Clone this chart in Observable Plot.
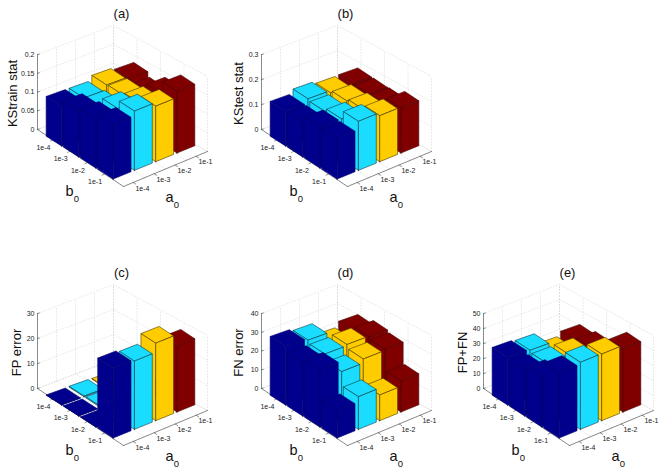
<!DOCTYPE html>
<html><head><meta charset="utf-8">
<script src="https://cdn.jsdelivr.net/npm/d3@7"></script>
<script src="https://cdn.jsdelivr.net/npm/@observablehq/plot@0.6"></script>
<style>html,body{margin:0;padding:0;background:#fff}</style></head>
<body><div id="chart"></div>
<script>
const aLabels = ["1e-4","1e-3","1e-2","1e-1"];
const bLabels = ["1e-4","1e-3","1e-2","1e-1"];
const barColors = ["#00008c","#19dcff","#ffcc00","#800000"];
const edgeColors = ["#000070","#0a3a4a","#4a3a00","#4a0000"];
// rows: b0 = 1e-4 .. 1e-1; columns: a0 = 1e-4 .. 1e-1
const ksTrain = [[.106,.106,.119,.114],[.124,.111,.121,.102],[.132,.136,.128,.13],[.145,.158,.148,.164]];
const ksTest  = [[.139,.156,.147,.149],[.139,.149,.157,.15],[.164,.162,.166,.153],[.162,.196,.184,.18]];
const fpError = [[.1,.3,.2,.1],[.1,.4,.2,.1],[.1,.3,.2,.1],[28,27.3,31,26.4]];
const fnError = [[31.3,30.2,23.7,26.5],[28.5,28.6,29.2,28.8],[30.7,25,27.2,27.8],[14.4,17.4,13.7,16.5]];
const fpfn    = [[31.8,31,23.7,26.5],[29.7,29.6,29.9,28.7],[33.6,29.4,29.4,28.7],[43.5,44.7,44.4,42.1]];
const panels = [
 {title:"(a)",ylabel:"KStrain stat",values:ksTrain,zmax:.2,ticks:[0,.05,.1,.15,.2],dx:0,dy:0,lx:12},
 {title:"(b)",ylabel:"KStest stat",values:ksTest,zmax:.3,ticks:[0,.1,.2,.3],dx:224,dy:0,lx:238},
 {title:"(c)",ylabel:"FP error",values:fpError,zmax:30,ticks:[0,10,20,30],dx:0,dy:259,lx:16},
 {title:"(d)",ylabel:"FN error",values:fnError,zmax:40,ticks:[0,10,20,30,40],dx:224,dy:259,lx:238},
 {title:"(e)",ylabel:"FP+FN",values:fpfn,zmax:50,ticks:[0,10,20,30,40,50],dx:446,dy:259,lx:462}
];
const L=[37,129],F=[123,186],R=[207,151],B=[113,100],BarL=[37,131],BarB=[129,99],ZH=75;
const faces=[],grid=[],axes=[],texts=[];
panels.forEach((pn,pi)=>{
  const proj=(Lk,Bk)=>(u,v,z=0)=>[
    F[0]*(1-u)*(1-v)+R[0]*u*(1-v)+Lk[0]*(1-u)*v+Bk[0]*u*v+pn.dx,
    F[1]*(1-u)*(1-v)+R[1]*u*(1-v)+Lk[1]*(1-u)*v+Bk[1]*u*v+pn.dy-z/pn.zmax*ZH];
  const P=proj(L,B),Q=proj(BarL,BarB);
  const seg=(arr,id,pts,extra={})=>pts.forEach(p=>arr.push({x:p[0],y:p[1],id:pi+"-"+id,...extra}));
  pn.ticks.forEach((t,i)=>{
    seg(grid,"zl"+i,[P(0,1,t),P(1,1,t)]);
    seg(grid,"zr"+i,[P(1,1,t),P(1,0,t)]);
  });
  for(let i=0;i<=4;i++){
    const q=i/4;
    seg(grid,"fu"+i,[P(q,0),P(q,1)]);
    seg(grid,"fv"+i,[P(0,q),P(1,q)]);
    seg(grid,"wu"+i,[P(q,1),P(q,1,pn.zmax)]);
    seg(grid,"wv"+i,[P(1,q),P(1,q,pn.zmax)]);
  }
  seg(axes,"z",[P(0,1),P(0,1,pn.zmax)]);
  seg(axes,"ev",[P(0,1),P(0,0)]);
  seg(axes,"eu",[P(0,0),P(1,0)]);
  pn.ticks.forEach((t,i)=>{
    const p=P(0,1,t);
    seg(axes,"zt"+i,[p,[p[0]+2,p[1]-.5]]);
    texts.push({x:p[0]-3,y:p[1],t:String(t),s:7,a:"end",c:"#222"});
  });
  bLabels.forEach((lab,k)=>{
    const p=P(0,.22+.2*(3-k));
    texts.push({x:p[0]-9.5,y:p[1]+8,t:lab,s:7,a:"middle",c:"#222"});
    seg(axes,"bt"+k,[p,[p[0]-2.5,p[1]+1.2]]);
  });
  aLabels.forEach((lab,j)=>{
    const p=P(.115+.25*j,0);
    texts.push({x:p[0]+9.3,y:p[1]+6,t:lab,s:7,a:"middle",c:"#222"});
    seg(axes,"at"+j,[p,[p[0]+2.5,p[1]+1.6]]);
  });
  for(let k=0;k<4;k++) for(let j=3;j>=0;j--){
    const z=pn.values[k][j],u0=.01+.25*j,u1=u0+.21,v0=.13+.2*(3-k),v1=v0+.18;
    const e={fill:barColors[j],edge:edgeColors[j]};
    seg(faces,`t${k}${j}`,[Q(u0,v0,z),Q(u1,v0,z),Q(u1,v1,z),Q(u0,v1,z),Q(u0,v0,z)],e);
    seg(faces,`l${k}${j}`,[Q(u0,v0,0),Q(u0,v1,0),Q(u0,v1,z),Q(u0,v0,z),Q(u0,v0,0)],e);
    seg(faces,`r${k}${j}`,[Q(u0,v0,0),Q(u1,v0,0),Q(u1,v0,z),Q(u0,v0,z),Q(u0,v0,0)],e);
  }
  texts.push({x:121+pn.dx,y:13+pn.dy,t:pn.title,s:13,a:"middle",c:"#111"});
  texts.push({x:pn.lx,y:pi<2?93:352,t:pn.ylabel,s:13,a:"middle",c:"#111",r:-90});
  texts.push({x:69+pn.dx,y:191+pn.dy,t:"b",s:14.5,a:"middle",c:"#111"});
  texts.push({x:76+pn.dx,y:198+pn.dy,t:"0",s:9.5,a:"middle",c:"#111"});
  texts.push({x:169+pn.dx,y:197+pn.dy,t:"a",s:14.5,a:"middle",c:"#111"});
  texts.push({x:176+pn.dx,y:204+pn.dy,t:"0",s:9.5,a:"middle",c:"#111"});
});
const textMark=(rows,rot)=>["middle","end"].map(an=>Plot.text(rows.filter(d=>d.a===an),{x:"x",y:"y",text:"t",fontSize:"s",fill:"c",textAnchor:an,rotate:rot}));
const chart=Plot.plot({
  width:667,height:473,margin:0,
  x:{type:"linear",domain:[0,667],range:[0,667],axis:null},
  y:{type:"linear",domain:[0,473],range:[0,473],axis:null},
  color:{type:"identity"},
  style:{fontFamily:"'Liberation Sans',Arial,sans-serif",background:"#fff"},
  marks:[
    Plot.line(grid,{x:"x",y:"y",z:"id",stroke:"#d0d0d0",strokeWidth:.5,strokeDasharray:"1,2"}),
    Plot.line(axes,{x:"x",y:"y",z:"id",stroke:"#444",strokeWidth:.6}),
    Plot.line(faces,{x:"x",y:"y",z:"id",fill:"fill",stroke:"edge",strokeWidth:.6,strokeLinejoin:"round"}),
    ...textMark(texts.filter(d=>!d.r),0),
    ...textMark(texts.filter(d=>d.r),-90)
  ]
});
document.getElementById("chart").append(chart);
</script></body></html>
